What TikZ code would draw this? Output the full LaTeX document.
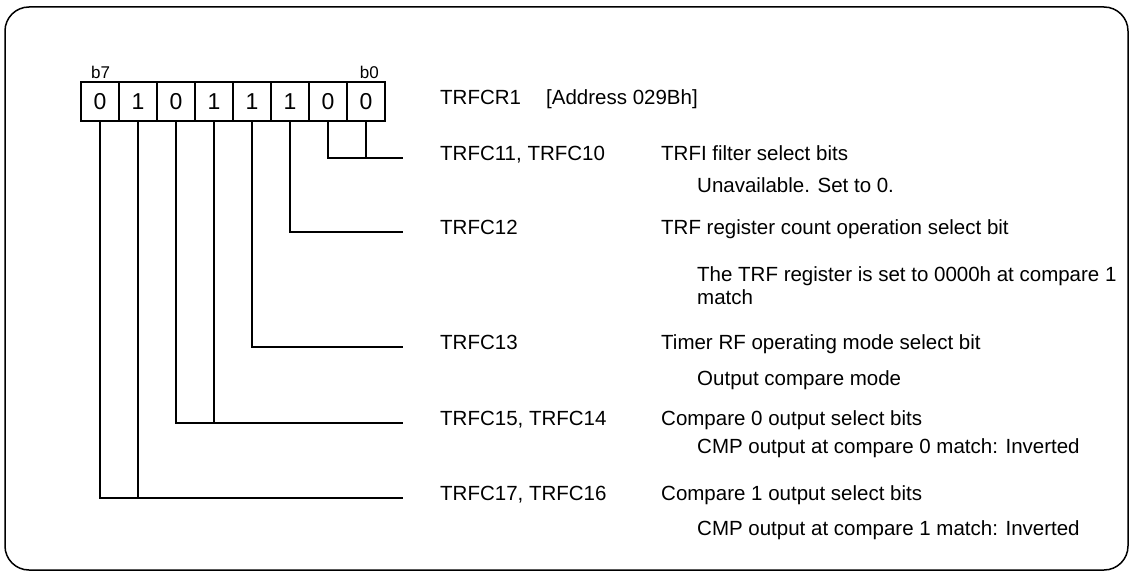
\documentclass[tikz,border=0pt]{standalone}
\usepackage{fontspec}
\setmainfont{Liberation Sans}
\begin{document}
\begin{tikzpicture}[x=1pt,y=-1pt,
  wire/.style={line width=1.3pt},
  bitcell/.style={draw, line width=1.3pt, minimum width=38pt, minimum height=39pt,
    inner sep=0pt, font=\fontsize{23}{25}\selectfont},
  bitnum/.style={inner sep=0pt, font=\fontsize{17}{19}\selectfont},
  lbl/.style={anchor=mid west, inner sep=0pt, font=\fontsize{20.5}{23}\selectfont}]
\useasboundingbox (0,0) rectangle (1133,575);
% outer frame
\draw[line width=1.5pt, rounded corners=24pt] (5,7) rectangle (1128,570);

% register bits b7 ... b0
\foreach \v [count=\i from 0] in {0,1,0,1,1,1,0,0} {
  \pgfmathtruncatemacro{\n}{7-\i}
  \node[bitcell] (bit\n) at ({100+38*\i},101.5) {\v};
}
\node[bitnum, anchor=base west] (b7) at (91,79) {b7};
\node[bitnum, anchor=base east] (b0) at (379,79) {b0};

% register name
\node[lbl] (reg) at (440,102) {TRFCR1};
\node[lbl] (addr) at (546,102) {[Address 029Bh]};

% line ends
\coordinate (e0) at (403,158);
\coordinate (e2) at (403,232);
\coordinate (e3) at (403,347);
\coordinate (e4) at (403,423);
\coordinate (e6) at (403,498);

% connectors
\draw[wire] (bit1.south) |- (e0);
\draw[wire] (bit0.south) -- (bit0.south |- e0);
\draw[wire] (bit2.south) |- (e2);
\draw[wire] (bit3.south) |- (e3);
\draw[wire] (bit5.south) |- (e4);
\draw[wire] (bit4.south) -- (bit4.south |- e4);
\draw[wire] (bit7.south) |- (e6);
\draw[wire] (bit6.south) -- (bit6.south |- e6);

% bit names
\node[lbl] (n0) at (440,158) {TRFC11, TRFC10};
\node[lbl] (n2) at (440,232) {TRFC12};
\node[lbl] (n3) at (440,347) {TRFC13};
\node[lbl] (n4) at (440,423) {TRFC15, TRFC14};
\node[lbl] (n6) at (440,498) {TRFC17, TRFC16};

% descriptions
\node[lbl] (d0) at (661,158) {TRFI filter select bits};
\node[lbl] (s0) at (697,190) {Unavailable. Set to 0.};
\node[lbl] (d2) at (661,232) {TRF register count operation select bit};
\node[lbl, anchor=west, align=left] (s2) at (697,285.5) {The TRF register is set to 0000h at compare 1\\match};
\node[lbl] (d3) at (661,347) {Timer RF operating mode select bit};
\node[lbl] (s3) at (697,383) {Output compare mode};
\node[lbl] (d4) at (661,423) {Compare 0 output select bits};
\node[lbl] (s4) at (697,451) {CMP output at compare 0 match: Inverted};
\node[lbl] (d6) at (661,498) {Compare 1 output select bits};
\node[lbl] (s6) at (697,533) {CMP output at compare 1 match: Inverted};
\end{tikzpicture}
\end{document}
